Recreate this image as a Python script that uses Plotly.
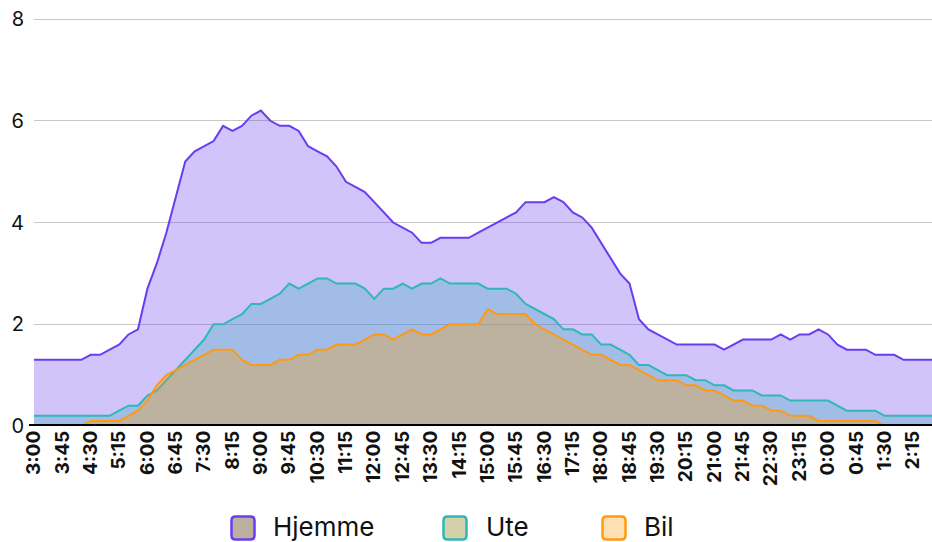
import plotly.graph_objects as go

# time labels every 15 minutes from 3:00 to 2:45
times = []
for k in range(96):
    m = (3 * 60 + 15 * k) % (24 * 60)
    times.append(f"{m // 60}:{m % 60:02d}")

hjemme = [1.3, 1.3, 1.3, 1.3, 1.3, 1.3, 1.4, 1.4, 1.5, 1.6, 1.8, 1.9, 2.7, 3.2, 3.8, 4.5,
          5.2, 5.4, 5.5, 5.6, 5.9, 5.8, 5.9, 6.1, 6.2, 6.0, 5.9, 5.9, 5.8, 5.5, 5.4, 5.3,
          5.1, 4.8, 4.7, 4.6, 4.4, 4.2, 4.0, 3.9, 3.8, 3.6, 3.6, 3.7, 3.7, 3.7, 3.7, 3.8,
          3.9, 4.0, 4.1, 4.2, 4.4, 4.4, 4.4, 4.5, 4.4, 4.2, 4.1, 3.9, 3.6, 3.3, 3.0, 2.8,
          2.1, 1.9, 1.8, 1.7, 1.6, 1.6, 1.6, 1.6, 1.6, 1.5, 1.6, 1.7, 1.7, 1.7, 1.7, 1.8,
          1.7, 1.8, 1.8, 1.9, 1.8, 1.6, 1.5, 1.5, 1.5, 1.4, 1.4, 1.4, 1.3, 1.3, 1.3, 1.3]

ute = [0.2, 0.2, 0.2, 0.2, 0.2, 0.2, 0.2, 0.2, 0.2, 0.3, 0.4, 0.4, 0.6, 0.7, 0.9, 1.1,
       1.3, 1.5, 1.7, 2.0, 2.0, 2.1, 2.2, 2.4, 2.4, 2.5, 2.6, 2.8, 2.7, 2.8, 2.9, 2.9,
       2.8, 2.8, 2.8, 2.7, 2.5, 2.7, 2.7, 2.8, 2.7, 2.8, 2.8, 2.9, 2.8, 2.8, 2.8, 2.8,
       2.7, 2.7, 2.7, 2.6, 2.4, 2.3, 2.2, 2.1, 1.9, 1.9, 1.8, 1.8, 1.6, 1.6, 1.5, 1.4,
       1.2, 1.2, 1.1, 1.0, 1.0, 1.0, 0.9, 0.9, 0.8, 0.8, 0.7, 0.7, 0.7, 0.6, 0.6, 0.6,
       0.5, 0.5, 0.5, 0.5, 0.5, 0.4, 0.3, 0.3, 0.3, 0.3, 0.2, 0.2, 0.2, 0.2, 0.2, 0.2]

bil = [0.0, 0.0, 0.0, 0.0, 0.0, 0.0, 0.1, 0.1, 0.1, 0.1, 0.2, 0.3, 0.5, 0.8, 1.0, 1.1,
       1.2, 1.3, 1.4, 1.5, 1.5, 1.5, 1.3, 1.2, 1.2, 1.2, 1.3, 1.3, 1.4, 1.4, 1.5, 1.5,
       1.6, 1.6, 1.6, 1.7, 1.8, 1.8, 1.7, 1.8, 1.9, 1.8, 1.8, 1.9, 2.0, 2.0, 2.0, 2.0,
       2.3, 2.2, 2.2, 2.2, 2.2, 2.0, 1.9, 1.8, 1.7, 1.6, 1.5, 1.4, 1.4, 1.3, 1.2, 1.2,
       1.1, 1.0, 0.9, 0.9, 0.9, 0.8, 0.8, 0.7, 0.7, 0.6, 0.5, 0.5, 0.4, 0.4, 0.3, 0.3,
       0.2, 0.2, 0.2, 0.1, 0.1, 0.1, 0.1, 0.1, 0.1, 0.1, 0.0, 0.0, 0.0, 0.0, 0.0, 0.0]

series_names = ["Hjemme", "Ute", "Bil"]
line_colors = ["#6a3cf0", "#2fb8b8", "#ff9a10"]
fill_colors = ["rgba(102,58,238,0.3)", "rgba(50,170,185,0.3)", "rgba(255,152,0,0.3)"]
swatch_colors = ["#bcb0a0", "#d4d0a8", "#ffe0b4"]
y_ticks = [0, 2, 4, 6, 8]

# figure geometry (pixels)
W, H = 932, 542
ML, MR, MT, MB = 34, 0, 17, 116
PW, PH = W - ML - MR, H - MT - MB


def px_to_paper_x(px):
    return (px - ML) / PW


def px_to_paper_y(py):
    return (H - MB - py) / PH


xidx = list(range(len(times)))

fig = go.Figure()
for name, ys, lc, fc in zip(series_names, [hjemme, ute, bil], line_colors, fill_colors):
    fig.add_trace(go.Scatter(
        x=xidx, y=ys, mode="lines", name=name, fill="tozeroy",
        line=dict(color=lc, width=2), fillcolor=fc, showlegend=False,
        hoverinfo="skip",
    ))

# legend entries (text), one legend per entry so spacing can match
legend_keys = ["legend", "legend2", "legend3"]
text_starts = [273, 486, 644]
swatch_centers = [243, 455, 614]
legend_y_px = 526
swatch_y_px = 528
for name, key in zip(series_names, legend_keys):
    fig.add_trace(go.Scatter(
        x=[None], y=[None], mode="markers", name=name, legend=key,
        marker=dict(symbol="square", size=2, color="rgba(0,0,0,0)",
                    line=dict(width=0)),
    ))

legend_layouts = {}
for key, ts in zip(legend_keys, text_starts):
    legend_layouts[key] = dict(
        orientation="h", x=px_to_paper_x(ts - 40), xanchor="left",
        yref="container", y=(H - legend_y_px) / H, yanchor="middle",
        font=dict(size=26, color="#111"), itemwidth=30,
        bgcolor="rgba(0,0,0,0)", borderwidth=0,
    )

s, r = 23, 4
h = s / 2
rounded = (f"M{-h + r},{-h} L{h - r},{-h} Q{h},{-h} {h},{-h + r} L{h},{h - r} "
           f"Q{h},{h} {h - r},{h} L{-h + r},{h} Q{-h},{h} {-h},{h - r} "
           f"L{-h},{-h + r} Q{-h},{-h} {-h + r},{-h} Z")
shapes = []
for cx, lc, sc in zip(swatch_centers, line_colors, swatch_colors):
    shapes.append(dict(
        type="path", xref="paper", yref="paper",
        xsizemode="pixel", ysizemode="pixel",
        xanchor=px_to_paper_x(cx), yanchor=px_to_paper_y(swatch_y_px),
        path=rounded, fillcolor=sc, line=dict(color=lc, width=2.5), layer="above",
    ))
# baseline (x axis line), extending slightly left of the plot like the original
shapes.append(dict(
    type="line", xref="paper", yref="y",
    x0=px_to_paper_x(29), x1=1, y0=0, y1=0,
    line=dict(color="black", width=4), layer="above",
))

fig.update_layout(
    width=W, height=H,
    margin=dict(l=ML, r=MR, t=MT, b=MB, autoexpand=False),
    paper_bgcolor="white", plot_bgcolor="white",
    font=dict(family="Inter, Roboto, sans-serif", color="#111"),
    showlegend=True,
    shapes=shapes,
    xaxis=dict(
        range=[0, len(times) - 1],
        tickvals=xidx[::3], ticktext=times[::3],
        tickangle=-90, tickfont=dict(size=19, weight="bold", color="#111"),
        showgrid=False, zeroline=False, showline=False,
        ticks="", automargin=False,
    ),
    yaxis=dict(
        range=[0, 8.04], tickvals=y_ticks,
        tickfont=dict(size=20, color="#111"),
        showgrid=True, gridcolor="#c8c8c8", gridwidth=1,
        zeroline=False, showline=False, ticks="",
        ticklabelstandoff=9, automargin=False,
    ),
    **legend_layouts,
)

fig.write_html("out.html", config={"displayModeBar": False},
               post_script="document.body.style.margin='0';")
